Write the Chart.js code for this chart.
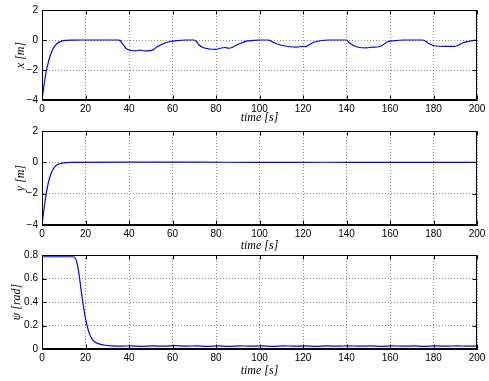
<!DOCTYPE html>
<html>
<head>
<meta charset="utf-8">
<script src="https://cdn.jsdelivr.net/npm/chart.js@4.4.1/dist/chart.umd.min.js"></script>
<style>
  html, body { margin: 0; padding: 0; background: #fff; }
  #wrap { position: relative; width: 489px; height: 381px; overflow: hidden; }
  canvas { position: absolute; left: 0; }
</style>
</head>
<body>
<div id="wrap">
  <canvas id="cX" width="489" height="125" style="top:0px"></canvas>
  <canvas id="cY" width="489" height="133" style="top:120px"></canvas>
  <canvas id="cPsi" width="489" height="135" style="top:243px"></canvas>
</div>
<script>
// x position [m]
const timeX = [0, 1, 2, 3, 4, 5, 6, 7, 8, 9, 11, 14, 18, 35, 36, 37, 38, 39, 41, 43, 45, 47, 49, 51, 53, 55, 57, 59, 62, 66,
  70, 71, 72, 74, 77, 80, 82, 84, 86, 88, 90, 92, 94, 97, 100, 104, 105, 107, 110, 114, 117, 120, 121, 123, 125, 128, 132,
  140, 141, 143, 146, 149, 152, 155, 157, 159, 162, 166, 175, 176, 178, 181, 185, 189, 191, 193, 196, 200];
const posX = [-4, -2.95, -2.05, -1.45, -0.95, -0.6, -0.38, -0.23, -0.14, -0.08, -0.03, -0.01, 0, 0, -0.05, -0.25, -0.45, -0.6, -0.7, -0.72, -0.68, -0.72, -0.72, -0.66, -0.45, -0.3, -0.18, -0.1, -0.04, 0,
  0, -0.1, -0.3, -0.5, -0.6, -0.62, -0.55, -0.5, -0.55, -0.45, -0.3, -0.18, -0.08, -0.03, 0, 0, -0.05, -0.2, -0.35, -0.45, -0.48, -0.42, -0.45, -0.3, -0.15, -0.05, 0,
  0, -0.15, -0.35, -0.5, -0.52, -0.48, -0.45, -0.3, -0.12, -0.05, 0, 0, -0.05, -0.25, -0.4, -0.42, -0.42, -0.38, -0.22, -0.1, 0];

// y position [m]
const timeY = [0, 1, 2, 3, 4, 5, 6, 7, 8, 10, 13, 40, 70, 100, 130, 160, 200];
const posY = [-4, -2.9, -1.95, -1.25, -0.78, -0.47, -0.28, -0.16, -0.09, -0.03, 0, 0.01, 0.01, 0, 0.005, 0, 0];

// heading psi [rad]
const timePsi = [0, 14, 15, 16, 17, 18, 19, 20, 21, 22, 23, 24, 25, 27, 29, 32, 36, 41, 46, 51, 56, 61, 66, 71, 76, 81, 86, 91,
  96, 101, 106, 111, 116, 121, 126, 131, 136, 141, 146, 151, 156, 161, 166, 171, 176, 181, 186, 191, 196, 200];
const psi = [0.785, 0.785, 0.78, 0.74, 0.64, 0.5, 0.37, 0.26, 0.18, 0.12, 0.085, 0.065, 0.052, 0.04, 0.032, 0.027, 0.024, 0.027, 0.023, 0.026, 0.024, 0.028, 0.024, 0.027, 0.023, 0.026, 0.023, 0.027,
  0.024, 0.026, 0.023, 0.027, 0.024, 0.026, 0.023, 0.026, 0.024, 0.027, 0.024, 0.026, 0.023, 0.027, 0.024, 0.026, 0.023, 0.026, 0.024, 0.027, 0.024, 0.026];

const timeTicks = [0, 20, 40, 60, 80, 100, 120, 140, 160, 180, 200];
const posTicks = [-4, -2, 0, 2];
const psiTicks = [0, 0.2, 0.4, 0.6, 0.8];

const tickFont = { family: 'Liberation Sans, Arial, sans-serif', size: 10 };
const titleFont = { family: 'Liberation Serif, Times New Roman, serif', size: 12, style: 'italic' };

// matlab style box with inward tick marks
const framePlugin = {
  id: 'frame',
  afterDraw(chart) {
    const { ctx, chartArea: a, scales } = chart;
    const L = Math.round(a.left) + 0.5, R = Math.round(a.right) - 0.5;
    const T = Math.round(a.top) + 0.5, B = Math.round(a.bottom) - 0.5;
    ctx.save();
    ctx.strokeStyle = '#000';
    ctx.lineWidth = 1;
    ctx.strokeRect(L, T, R - L, B - T);
    ctx.beginPath();
    scales.x.ticks.forEach(t => {
      const px = Math.round(scales.x.getPixelForValue(t.value)) + 0.5;
      ctx.moveTo(px, B); ctx.lineTo(px, B - 4);
      ctx.moveTo(px, T); ctx.lineTo(px, T + 4);
    });
    scales.y.ticks.forEach(t => {
      const py = Math.round(scales.y.getPixelForValue(t.value)) + 0.5;
      ctx.moveTo(L, py); ctx.lineTo(L + 4, py);
      ctx.moveTo(R, py); ctx.lineTo(R - 4, py);
    });
    ctx.stroke();
    ctx.restore();
  }
};

function minus(v) {
  return String(v).replace('-', '\u2212');
}

function makeChart(id, times, vals, yTicks, yTitle, padTop, xAxisH, yTitlePad) {
  const pts = times.map((t, i) => ({ x: t, y: vals[i] }));
  return new Chart(document.getElementById(id), {
    type: 'line',
    data: {
      datasets: [{
        data: pts,
        borderColor: '#0000ff',
        borderWidth: 1.2,
        pointRadius: 0,
        cubicInterpolationMode: 'monotone',
        fill: false
      }]
    },
    options: {
      responsive: false,
      animation: false,
      devicePixelRatio: 1,
      layout: { padding: { top: padTop, right: 12, bottom: 0, left: 0 } },
      plugins: { legend: { display: false }, tooltip: { enabled: false } },
      scales: {
        x: {
          type: 'linear',
          min: timeTicks[0],
          max: timeTicks[timeTicks.length - 1],
          afterBuildTicks: s => { s.ticks = timeTicks.map(v => ({ value: v })); },
          afterFit: s => { s.height = xAxisH; },
          grid: { color: 'rgba(0,0,0,0.45)', drawTicks: false },
          border: { color: '#000', dash: [1, 2] },
          ticks: { color: '#000', font: tickFont, padding: 3, maxRotation: 0, callback: v => minus(v) },
          title: { display: true, text: 'time [s]', color: '#000', font: titleFont, padding: 0 }
        },
        y: {
          min: yTicks[0],
          max: yTicks[yTicks.length - 1],
          afterBuildTicks: s => { s.ticks = yTicks.map(v => ({ value: v })); },
          afterFit: s => { s.width = 42; },
          grid: { color: 'rgba(0,0,0,0.45)', drawTicks: false },
          border: { color: '#000', dash: [1, 2] },
          ticks: { color: '#000', font: tickFont, padding: 4, callback: v => minus(v) },
          title: { display: true, text: yTitle, color: '#000', font: titleFont, padding: { top: yTitlePad, bottom: 0 } }
        }
      }
    },
    plugins: [framePlugin]
  });
}

makeChart('cX', timeX, posX, posTicks, 'x [m]', 6, 25, 14);
makeChart('cY', timeY, posY, posTicks, 'y [m]', 11, 28, 14);
makeChart('cPsi', timePsi, psi, psiTicks, '\u03c8 [rad]', 12, 29, 10);
</script>
</body>
</html>
